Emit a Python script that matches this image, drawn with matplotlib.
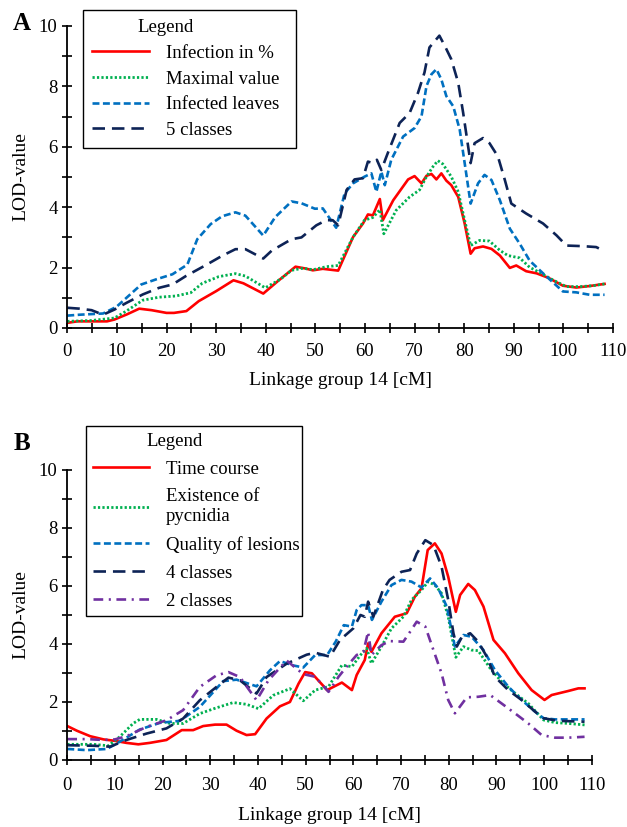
import matplotlib
matplotlib.use("Agg")
import matplotlib.pyplot as plt
from matplotlib.ticker import MultipleLocator

plt.rcParams['font.family'] = ['Liberation Serif', 'DejaVu Serif']
plt.rcParams['lines.scale_dashes'] = False

# ---------------- Panel A data ----------------
a_inf_x = [0, 2, 5, 8, 9.5, 12, 14.5, 17, 20, 21.5, 24, 26.5, 30, 33.5, 35.5, 39.5, 42.5, 46, 48, 49.5,
           51.5, 54.6, 57.6, 59.6, 60.6, 61.6, 63, 63.6, 65.7, 68.7, 70, 71.4, 72.4, 73.4, 74.4, 75.4, 76.4,
           77.4, 78.8, 80.1, 81.3, 82.1, 83.8, 85.5, 87.2, 89.2, 90.5, 92.5, 94.6, 97, 99.9, 102.6, 105.3, 108.3]
a_inf_y = [0.17, 0.22, 0.22, 0.22, 0.28, 0.45, 0.64, 0.59, 0.5, 0.5, 0.56, 0.89, 1.22, 1.58, 1.48, 1.14, 1.56,
           2.03, 1.97, 1.91, 1.96, 1.9, 3.01, 3.46, 3.76, 3.73, 4.27, 3.57, 4.23, 4.92, 5.03, 4.79, 5.04, 5.1,
           4.92, 5.12, 4.88, 4.73, 4.34, 3.46, 2.46, 2.64, 2.7, 2.62, 2.4, 1.99, 2.07, 1.88, 1.81, 1.66, 1.4,
           1.34, 1.39, 1.46]

a_max_x = [0, 5, 9.5, 11.9, 15.2, 18.5, 21.9, 24.9, 27.2, 30.5, 33.9, 35.9, 39.9, 42.9, 45.2, 47.5, 49.5,
           52.2, 54.6, 57.6, 59.9, 61.6, 63, 63.8, 66.3, 69, 71, 72.4, 73.7, 74.7, 75.7, 77.4, 78.8, 80.1,
           81.3, 83.1, 85.1, 87.2, 88.8, 91.2, 93.2, 95.2, 97.9, 100.6, 103.3, 106, 108.3]
a_max_y = [0.22, 0.25, 0.33, 0.56, 0.92, 1.02, 1.06, 1.17, 1.48, 1.7, 1.8, 1.72, 1.33, 1.61, 1.91, 1.98, 1.93,
           2.03, 2.07, 3.01, 3.57, 3.66, 3.92, 3.12, 3.9, 4.34, 4.57, 5.01, 5.34, 5.54, 5.43, 5.01, 4.51, 3.57,
           2.73, 2.9, 2.88, 2.57, 2.4, 2.32, 2.01, 1.84, 1.59, 1.37, 1.37, 1.4, 1.46]

a_lv_x = [0, 2.5, 7.2, 9.9, 14.9, 17.9, 21.2, 24.2, 26.2, 28.9, 31.2, 33.9, 35.9, 39.5, 41.9, 45.2, 47.2,
          49.9, 51.5, 54.2, 55.9, 57.6, 59.9, 61.3, 62.3, 63.3, 64, 65.3, 67.7, 70, 71.4, 72.4, 73.4, 74.4,
          75.4, 76.4, 77.8, 79.1, 80.1, 81.3, 82.8, 84.1, 85.5, 87.2, 89.2, 91.2, 93.2, 95.9, 97.9, 99.9,
          102.6, 105.3, 108.3]
a_lv_y = [0.41, 0.44, 0.48, 0.7, 1.44, 1.61, 1.78, 2.1, 2.94, 3.44, 3.7, 3.83, 3.72, 3.06, 3.67, 4.19, 4.13,
          3.95, 3.96, 3.32, 4.46, 4.79, 5.01, 5.12, 4.51, 5.18, 4.73, 5.57, 6.34, 6.62, 7.01, 8.01, 8.4, 8.57,
          8.23, 7.68, 7.34, 6.57, 5.46, 4.12, 4.79, 5.07, 4.9, 4.23, 3.29, 2.79, 2.23, 1.81, 1.51, 1.21, 1.18,
          1.1, 1.1]

a_c5_x = [0, 2.5, 4.9, 7.2, 9.5, 11.9, 15.2, 18.5, 21.2, 23.9, 27.9, 31.2, 33.9, 35.9, 39.5, 41.2, 45.2,
          47.2, 50.2, 52.2, 53.5, 54.6, 56.3, 57.9, 59.6, 60.6, 61.6, 62.4, 63.3, 64.6, 67, 69, 70.7, 72, 73,
          75, 76.1, 77.4, 78.8, 79.8, 80.8, 81.3, 82.1, 83.8, 85.1, 86.8, 88.2, 89.5, 92.5, 95.9, 98.6, 100.6,
          103.9, 106.6, 108]
a_c5_y = [0.67, 0.64, 0.59, 0.44, 0.61, 0.83, 1.11, 1.33, 1.44, 1.72, 2.08, 2.39, 2.61, 2.61, 2.3, 2.56, 2.94,
          3.0, 3.4, 3.57, 3.57, 3.4, 4.57, 4.92, 4.96, 5.51, 5.46, 5.57, 5.23, 5.79, 6.79, 7.12, 7.79, 8.46,
          9.29, 9.68, 9.34, 8.9, 8.12, 7.12, 6.01, 5.46, 6.12, 6.29, 6.12, 5.68, 4.9, 4.12, 3.79, 3.46, 3.07,
          2.73, 2.71, 2.68, 2.57]

# ---------------- Panel B data ----------------
b_tc_x = [0, 2, 4.8, 7.6, 10, 12.4, 14.9, 17.3, 20.8, 24, 26.4, 28.5, 31, 33.4, 35.5, 37.6, 39.4, 41.8, 44.6,
          46.7, 48.5, 49.9, 51.3, 54.5, 57.6, 59.7, 60.7, 62.4, 63.1, 63.8, 65.9, 68.7, 71.2, 72.9, 74.3, 75.6,
          77.1, 78.5, 79.9, 81.5, 82.4, 84.1, 85.5, 87.3, 89.4, 91.8, 94.6, 97.4, 100.1, 101.6, 105.1, 107.2,
          108.5]
b_tc_y = [1.16, 1.0, 0.81, 0.7, 0.65, 0.58, 0.53, 0.58, 0.68, 1.02, 1.02, 1.16, 1.21, 1.21, 1.0, 0.85, 0.88,
          1.42, 1.84, 1.99, 2.62, 3.02, 2.98, 2.4, 2.66, 2.4, 2.92, 3.44, 4.01, 3.72, 4.36, 4.93, 5.05, 5.62,
          5.91, 7.23, 7.46, 7.11, 6.31, 5.1, 5.68, 6.06, 5.85, 5.28, 4.13, 3.67, 2.98, 2.4, 2.06, 2.23, 2.37,
          2.46, 2.46]

b_py_x = [0, 5.5, 8.6, 11, 13.8, 15.2, 18.7, 21.5, 24.3, 27.8, 31.3, 34.8, 37.6, 40.1, 43.2, 46.7, 49.5, 52,
          54.8, 57.6, 59.7, 61.5, 62.8, 63.8, 65.9, 68, 70.5, 72.2, 74.3, 75.7, 77.1, 78.5, 79.9, 81.5, 83.1,
          84.8, 86.2, 88.7, 91.1, 93.9, 96.7, 99.9, 102.3, 105.1, 108.5]
b_py_y = [0.53, 0.53, 0.48, 0.79, 1.25, 1.39, 1.39, 1.25, 1.25, 1.59, 1.79, 1.97, 1.91, 1.76, 2.22, 2.45, 2.03,
          2.4, 2.52, 3.26, 3.21, 3.61, 3.84, 3.32, 3.9, 4.53, 4.93, 5.51, 5.85, 6.14, 6.02, 5.74, 4.93, 3.53,
          3.9, 3.78, 3.76, 3.15, 2.69, 2.29, 1.94, 1.37, 1.28, 1.25, 1.2]

b_ql_x = [0, 4.1, 8.3, 11, 15.2, 19.4, 23.6, 27.8, 32.7, 35.5, 39.7, 42.5, 44.6, 47.4, 49.5, 52, 54.5, 56.3,
          58, 59.7, 60.7, 61.7, 63.1, 63.9, 65.9, 68, 70.1, 72.2, 74.3, 76.1, 77.8, 79.6, 81.3, 83.1, 84.8,
          87.3, 89.7, 92.5, 95.3, 98.1, 99.9, 102.3, 105.1, 108.5]
b_ql_y = [0.37, 0.33, 0.37, 0.62, 1.04, 1.27, 1.34, 1.82, 2.71, 2.76, 2.53, 3.08, 3.4, 3.25, 3.18, 3.61, 3.61,
          4.07, 4.64, 4.59, 5.16, 5.33, 5.33, 4.82, 5.45, 6.02, 6.2, 6.14, 5.94, 6.25, 5.91, 5.28, 3.9, 4.3,
          4.24, 3.78, 3.09, 2.52, 2.06, 1.66, 1.43, 1.39, 1.39, 1.39]

b_c4_x = [0, 5.5, 9, 12.4, 16.6, 20.8, 24.3, 27.8, 31.3, 33.8, 36.2, 39.7, 41.8, 46, 50.2, 52, 55.1, 57.2,
          60, 61.5, 62.4, 63.1, 64.2, 66.2, 67.6, 70.1, 71.9, 73.3, 75.1, 76.8, 78.5, 79.9, 81, 81.7, 82.8,
          84.5, 86.2, 88, 89.7, 92.5, 95.3, 98.1, 99.9, 103, 108.5]
b_c4_y = [0.5, 0.48, 0.45, 0.68, 0.9, 1.08, 1.42, 2.05, 2.51, 2.83, 2.74, 2.28, 2.85, 3.31, 3.62, 3.69, 3.55,
          4.13, 4.53, 4.99, 4.93, 5.45, 4.93, 5.85, 6.2, 6.48, 6.54, 7.11, 7.57, 7.4, 6.66, 5.51, 4.36, 3.9,
          4.24, 4.36, 4.07, 3.55, 2.86, 2.4, 2.06, 1.66, 1.43, 1.34, 1.31]

b_c2_x = [0, 4.1, 7.6, 10, 12.4, 16.6, 20.8, 24.3, 27.8, 31.3, 33.8, 36.2, 39.7, 42.2, 46, 49.5, 52, 54.8,
          56.9, 58.6, 60.7, 62.1, 63.1, 63.8, 65.9, 67.6, 70.5, 71.9, 73.3, 75.1, 76.8, 78.5, 79.9, 81.3, 83.8,
          86.2, 88.7, 91.1, 93.9, 96.7, 99.5, 102.3, 105.1, 108.5]
b_c2_y = [0.71, 0.71, 0.68, 0.7, 0.81, 1.13, 1.36, 1.71, 2.51, 2.91, 3.02, 2.85, 2.05, 2.74, 3.42, 2.95, 2.86,
          2.34, 2.86, 3.21, 3.61, 3.72, 4.41, 3.61, 3.95, 4.09, 4.07, 4.41, 4.76, 4.59, 3.78, 2.98, 2.06, 1.6,
          2.15, 2.17, 2.23, 1.94, 1.6, 1.25, 0.85, 0.76, 0.76, 0.79]

a_labels = ["Infection in %", "Maximal value", "Infected leaves", "5 classes"]
b_labels = ["Time course", "Existence of\npycnidia", "Quality of lesions", "4 classes", "2 classes"]
x_ticks = list(range(0, 111, 10))
y_ticks = list(range(0, 11, 2))

RED = "#ff0000"
GREEN = "#00b050"
LBLUE = "#0070c0"
NAVY = "#0d2356"
PURPLE = "#7030a0"

W, H = 627, 827
fig = plt.figure(figsize=(W / 100, H / 100), dpi=100)

def px_axes(l, r, b, t):
    return fig.add_axes([l / W, 1 - b / H, (r - l) / W, (b - t) / H])

axA = px_axes(67.3, 613, 328, 26)
axB = px_axes(67.3, 591.7, 759.7, 469.7)

def style(ax, xpad):
    ax.set_xlim(0, 110)
    ax.set_ylim(0, 10)
    for s in ("top", "right"):
        ax.spines[s].set_visible(False)
    for s in ("left", "bottom"):
        ax.spines[s].set_linewidth(1.3)
    ax.set_xticks(x_ticks)
    ax.set_yticks(y_ticks)
    ax.xaxis.set_minor_locator(MultipleLocator(5))
    ax.yaxis.set_minor_locator(MultipleLocator(1))
    ax.tick_params(which="both", direction="inout", length=7, width=1.2, labelsize=13.5, color="black")
    ax.tick_params(axis="x", pad=xpad)
    ax.set_xlabel("Linkage group 14 [cM]", fontsize=14, labelpad=9)
    ax.set_ylabel("LOD-value", fontsize=14, labelpad=7)
    ax.patch.set_alpha(0)

def solid(ax, x, y, c, lab):
    return ax.plot(x, y, color=c, lw=1.9, label=lab)[0]

def dashed(ax, x, y, c, lab, dashes, lw=1.9):
    l, = ax.plot(x, y, color=c, lw=lw, label=lab)
    l.set_dashes(dashes)
    return l

# Panel A
style(axA, 7)
solid(axA, a_inf_x, a_inf_y, RED, a_labels[0])
dashed(axA, a_max_x, a_max_y, GREEN, a_labels[1], (1.6, 1.6), lw=2.0)
dashed(axA, a_lv_x, a_lv_y, LBLUE, a_labels[2], (5, 2.5))
dashed(axA, a_c5_x, a_c5_y, NAVY, a_labels[3], (9, 5))

# Panel B
style(axB, 9)
solid(axB, b_tc_x, b_tc_y, RED, b_labels[0])
dashed(axB, b_py_x, b_py_y, GREEN, b_labels[1], (1.6, 1.6), lw=2.0)
dashed(axB, b_ql_x, b_ql_y, LBLUE, b_labels[2], (5, 2.5))
dashed(axB, b_c4_x, b_c4_y, NAVY, b_labels[3], (9, 5))
dashed(axB, b_c2_x, b_c2_y, PURPLE, b_labels[4], (7, 4, 1.5, 4))

def make_legend(ax, x0, y0, x1, spacing, bpad, title_shift):
    leg = ax.legend(loc="upper left", bbox_to_anchor=(x0 / W, 1 - y0 / H, (x1 - x0) / W, 0),
                    bbox_transform=fig.transFigure, mode="expand", title="Legend",
                    fontsize=13.5, title_fontsize=13.5, frameon=True, fancybox=False,
                    edgecolor="black", framealpha=1, handlelength=3.0, handletextpad=0.9,
                    labelspacing=spacing, borderpad=bpad, borderaxespad=0)
    leg.get_frame().set_linewidth(1.0)
    leg.get_title().set_x(title_shift)
    return leg

make_legend(axA, 83, 10, 296, 0.45, 0.5, -24)
make_legend(axB, 86, 426, 302, 0.58, 0.35, -19)

fig.text(22 / W, 1 - 24 / H, "A", fontsize=18, fontweight="bold", ha="center", va="center")
fig.text(22 / W, 1 - 443 / H, "B", fontsize=18, fontweight="bold", ha="center", va="center")

fig.savefig("out.png", dpi=100)
